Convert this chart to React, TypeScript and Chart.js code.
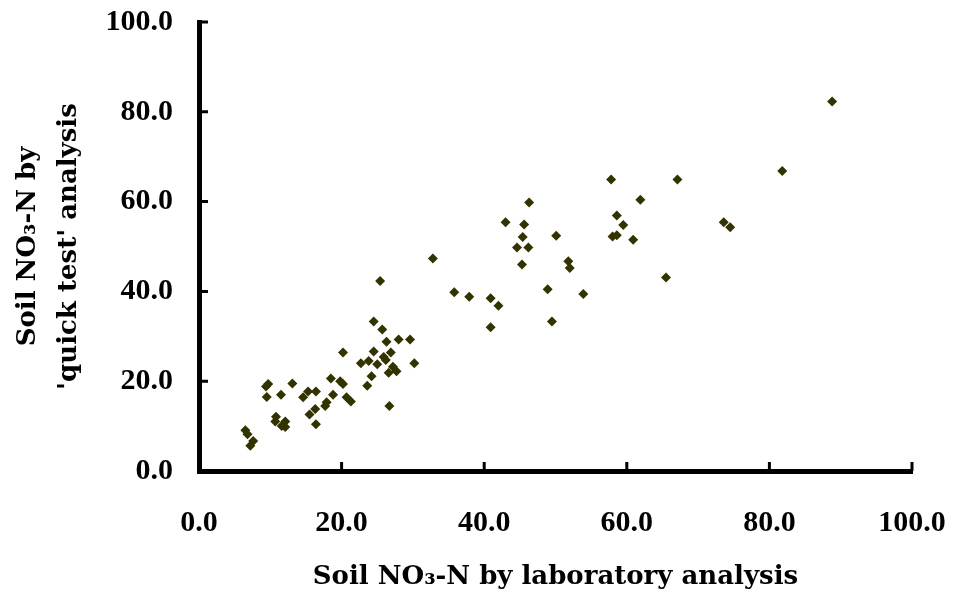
import React, { useEffect, useRef } from "react";
import { Chart, registerables } from "chart.js";

Chart.register(...registerables);

const labX = [20.2, 24.5, 26.3, 28.0, 29.6, 26.9, 25.9, 26.2, 22.7, 23.8, 25.0, 27.2, 26.6, 27.7, 30.2, 24.2, 23.6, 26.7, 18.5, 19.8, 20.2, 18.8, 20.7, 21.3, 17.9, 17.7, 16.4, 15.3, 14.6, 16.3, 15.5, 16.4, 13.1, 9.7, 9.4, 9.5, 11.5, 10.8, 10.7, 12.1, 12.1, 11.6, 6.5, 6.8, 7.6, 7.2, 32.8, 25.4, 35.8, 24.5, 25.7, 37.9, 40.9, 42.0, 40.9, 48.9, 53.9, 49.5, 46.3, 43.0, 45.6, 45.4, 44.6, 46.2, 50.1, 45.3, 51.8, 52.0, 57.8, 67.1, 61.9, 58.6, 59.5, 58.0, 58.6, 60.9, 73.6, 74.5, 65.5, 81.8, 88.8];
const quickY = [26.4, 26.6, 28.8, 29.3, 29.3, 26.4, 25.4, 24.7, 24.0, 24.5, 23.8, 23.2, 21.9, 22.2, 24.0, 21.1, 19.0, 14.5, 20.6, 20.0, 19.4, 17.0, 16.4, 15.5, 15.3, 14.5, 17.7, 17.7, 16.4, 13.8, 12.6, 10.4, 19.5, 19.4, 18.8, 16.5, 17.0, 12.1, 11.0, 11.0, 9.8, 10.0, 9.1, 8.2, 6.7, 5.6, 47.3, 42.3, 39.8, 33.3, 31.5, 38.8, 38.5, 36.8, 32.0, 40.5, 39.4, 33.3, 59.8, 55.4, 54.9, 52.1, 49.8, 49.8, 52.4, 46.0, 46.7, 45.2, 64.9, 64.9, 60.4, 56.9, 54.8, 52.2, 52.5, 51.5, 55.4, 54.3, 43.1, 66.8, 82.3];

const xTitle = "Soil NO\u2083-N by laboratory analysis";
const yTitle = ["Soil NO\u2083-N by", "'quick test' analysis"];
const axisMin = 0;
const axisMax = 100;
const axisStep = 20;

const inwardTicks = {
  id: "inwardTicks",
  afterDraw(chart: any) {
    const ctx = chart.ctx;
    const area = chart.chartArea;
    const xs = chart.scales.x;
    const ys = chart.scales.y;
    ctx.save();
    ctx.strokeStyle = "#000";
    ctx.lineWidth = 3;
    ctx.beginPath();
    xs.ticks.forEach((t: any) => {
      const px = xs.getPixelForValue(t.value);
      ctx.moveTo(px, area.bottom);
      ctx.lineTo(px, area.bottom - 9);
    });
    ys.ticks.forEach((t: any) => {
      const py = ys.getPixelForValue(t.value);
      ctx.moveTo(area.left, py);
      ctx.lineTo(area.left + 9, py);
    });
    ctx.stroke();
    ctx.restore();
  },
};

const zeroPad = (s: any) => {
  s.paddingLeft = 0;
  s.paddingRight = 0;
  s.paddingTop = 0;
  s.paddingBottom = 0;
};

export default function App() {
  const ref = useRef<HTMLCanvasElement | null>(null);
  useEffect(() => {
    if (!ref.current) return;
    const points = labX.map((x, i) => ({ x, y: quickY[i] }));
    const tickFont = "'Liberation Serif', 'Times New Roman', serif";
    const titleFont = "'DejaVu Serif', 'Liberation Serif', serif";
    const chart = new Chart(ref.current, {
      type: "scatter",
      data: {
        datasets: [
          {
            data: points,
            pointStyle: "rectRot",
            pointRadius: 5,
            pointBackgroundColor: "#333300",
            pointBorderColor: "#333300",
            pointBorderWidth: 0,
          },
        ],
      },
      options: {
        responsive: false,
        animation: false,
        devicePixelRatio: 1,
        layout: { padding: { top: 22, right: 41, left: 0, bottom: 0 } },
        plugins: { legend: { display: false }, tooltip: { enabled: false } },
        scales: {
          x: {
            type: "linear",
            min: axisMin,
            max: axisMax,
            grid: { display: false, drawTicks: false },
            border: { display: true, color: "#000", width: 5 },
            ticks: {
              stepSize: axisStep,
              color: "#000",
              padding: 34,
              maxRotation: 0,
              font: { family: tickFont, size: 30, weight: "bold" },
              callback: (v: any) => Number(v).toFixed(1),
            },
            title: {
              display: true,
              text: xTitle,
              color: "#000",
              font: { family: titleFont, size: 26, weight: "bold", lineHeight: 1.2 },
              padding: { top: 0, bottom: 5 },
            },
            afterFit: (s: any) => {
              s.height = 127;
              zeroPad(s);
            },
          },
          y: {
            type: "linear",
            min: axisMin,
            max: axisMax,
            grid: { display: false, drawTicks: false },
            border: { display: true, color: "#000", width: 5 },
            ticks: {
              stepSize: axisStep,
              color: "#000",
              padding: 26,
              font: { family: tickFont, size: 30, weight: "bold" },
              callback: (v: any) => Number(v).toFixed(1),
            },
            title: {
              display: true,
              text: yTitle,
              color: "#000",
              font: { family: titleFont, size: 26, weight: "bold", lineHeight: 1.6 },
              padding: { top: 7, bottom: 0 },
            },
            afterFit: (s: any) => {
              s.width = 199;
              zeroPad(s);
            },
          },
        },
      },
      plugins: [inwardTicks],
    });
    return () => chart.destroy();
  }, []);
  return (
    <div style={{ position: "fixed", left: 0, top: 0, width: 953, height: 598, background: "#fff" }}>
      <canvas ref={ref} width={953} height={598} style={{ display: "block" }} />
    </div>
  );
}
